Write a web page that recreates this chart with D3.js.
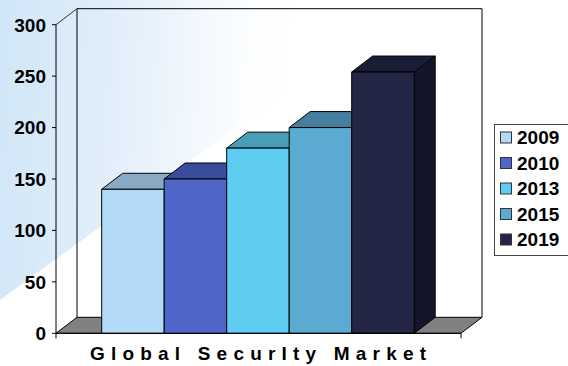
<!DOCTYPE html>
<html><head><meta charset="utf-8">
<script src="https://cdn.jsdelivr.net/npm/d3@7"></script>
<style>html,body{margin:0;padding:0;background:#fff;}svg{display:block;}</style>
</head><body>
<script>
const years = ["2009","2010","2013","2015","2019"];
const values = [140, 150, 180, 200, 254];
const yTicks = [0, 50, 100, 150, 200, 250, 300];
const frontColors = ["#b3dbf8","#4f66c8","#5ecdf1","#5aaad1","#232645"];
const topColors = ["#8aa9c2","#3a4d9c","#4a9db8","#457e9f","#1b1d37"];
const sideColors = ["#7a98b0","#2f3f82","#3d879e","#3a6c88","#131628"];
const title = "Global SecurIty Market";

const W = 568, H = 366;
const svg = d3.select("body").append("svg").attr("width", W).attr("height", H);
const defs = svg.append("defs");
const g = defs.append("linearGradient").attr("id","bg").attr("gradientUnits","userSpaceOnUse")
  .attr("x1",0).attr("y1",0).attr("x2",290).attr("y2",20);
g.append("stop").attr("offset",0).attr("stop-color","#d0e6f8");
g.append("stop").attr("offset",0.4).attr("stop-color","#e1eefa");
g.append("stop").attr("offset",0.85).attr("stop-color","#fbfdff");
g.append("stop").attr("offset",1).attr("stop-color","#ffffff");
svg.append("rect").attr("width",W).attr("height",H).attr("fill","url(#bg)");
// white wedge lower-left
svg.append("path").attr("d","M0,300 L400,8 L568,8 L568,366 L0,366 Z").attr("fill","#ffffff");

const y = d3.scaleLinear().domain([0,300]).range([333.3, 24.7]);
const x = d3.scaleBand().domain(years).range([101.7, 414.2]).padding(0);
const ax0 = 56, ax1 = 461;
const DX = 21, DY = -16;

const line = (pts) => "M" + pts.map(p => p.join(",")).join("L");

// floor
svg.append("path")
  .attr("d", line([[ax0,y(0)],[ax0+DX,y(0)+DY],[ax1+DX,y(0)+DY],[ax1,y(0)]]) + "Z")
  .attr("fill","#808080").attr("stroke","#000").attr("stroke-width",1);
// back wall
const wall = svg.append("g").attr("fill","none").attr("stroke","#000").attr("stroke-width",1);
wall.append("path").attr("d", line([[ax0+DX,y(0)+DY],[ax0+DX,y(300)+DY],[ax1+DX,y(300)+DY],[ax1+DX,y(0)+DY]]));
wall.append("path").attr("d", line([[ax0,y(300)],[ax0+DX,y(300)+DY]])).attr("stroke","#333");

// bars
const bars = svg.append("g").attr("stroke","#000").attr("stroke-width",1).attr("stroke-linejoin","round");
years.forEach((yr, i) => {
  const x0 = x(yr), x1 = x(yr) + x.bandwidth();
  const yt = y(values[i]), yb = y(0);
  bars.append("path").attr("d", line([[x1,yb],[x1,yt],[x1+DX,yt+DY],[x1+DX,yb+DY]])+"Z").attr("fill", sideColors[i]);
  bars.append("path").attr("d", line([[x0,yt],[x0+DX,yt+DY],[x1+DX,yt+DY],[x1,yt]])+"Z").attr("fill", topColors[i]);
  bars.append("rect").attr("x",x0).attr("y",yt).attr("width",x1-x0).attr("height",yb-yt).attr("fill", frontColors[i]);
});

// front axes
const axg = svg.append("g").attr("stroke","#000").attr("stroke-width",1);
axg.append("line").attr("x1",ax0).attr("x2",ax0).attr("y1",y(0)).attr("y2",y(300));
axg.append("line").attr("x1",ax0).attr("x2",ax1).attr("y1",y(0)).attr("y2",y(0));
axg.selectAll(".yt").data(yTicks).join("line").attr("x1",ax0-4).attr("x2",ax0).attr("y1",d=>y(d)).attr("y2",d=>y(d));
[ax0, ax1].forEach(px => axg.append("line").attr("x1",px).attr("x2",px).attr("y1",y(0)).attr("y2",y(0)+5));

svg.append("g").selectAll("text").data(yTicks).join("text")
  .attr("x",46).attr("y",d=>y(d)).attr("dy","0.36em").attr("text-anchor","end")
  .attr("font-family","'Liberation Sans', Arial, sans-serif").attr("font-weight","bold").attr("font-size",19)
  .attr("fill","#000").text(d=>d);

svg.append("text").attr("x",90).attr("y",360).attr("textLength",336).attr("lengthAdjust","spacing")
  .attr("font-family","'Liberation Sans', Arial, sans-serif").attr("font-weight","bold").attr("font-size",19)
  .attr("fill","#000").text(title);

// legend
const lg = svg.append("g");
lg.append("rect").attr("x",494.5).attr("y",124.5).attr("width",90).attr("height",131).attr("fill","#fff").attr("stroke","#444").attr("stroke-width",1);
years.forEach((yr,i) => {
  const cy = 137.5 + i*25.5;
  lg.append("rect").attr("x",500.5).attr("y",cy-5.5).attr("width",11).attr("height",11).attr("fill",frontColors[i]).attr("stroke","#333").attr("stroke-width",1);
  lg.append("text").attr("x",517).attr("y",cy).attr("dy","0.36em")
    .attr("font-family","'Liberation Sans', Arial, sans-serif").attr("font-weight","bold").attr("font-size",19)
    .attr("fill","#000").text(yr);
});
</script>
</body></html>
